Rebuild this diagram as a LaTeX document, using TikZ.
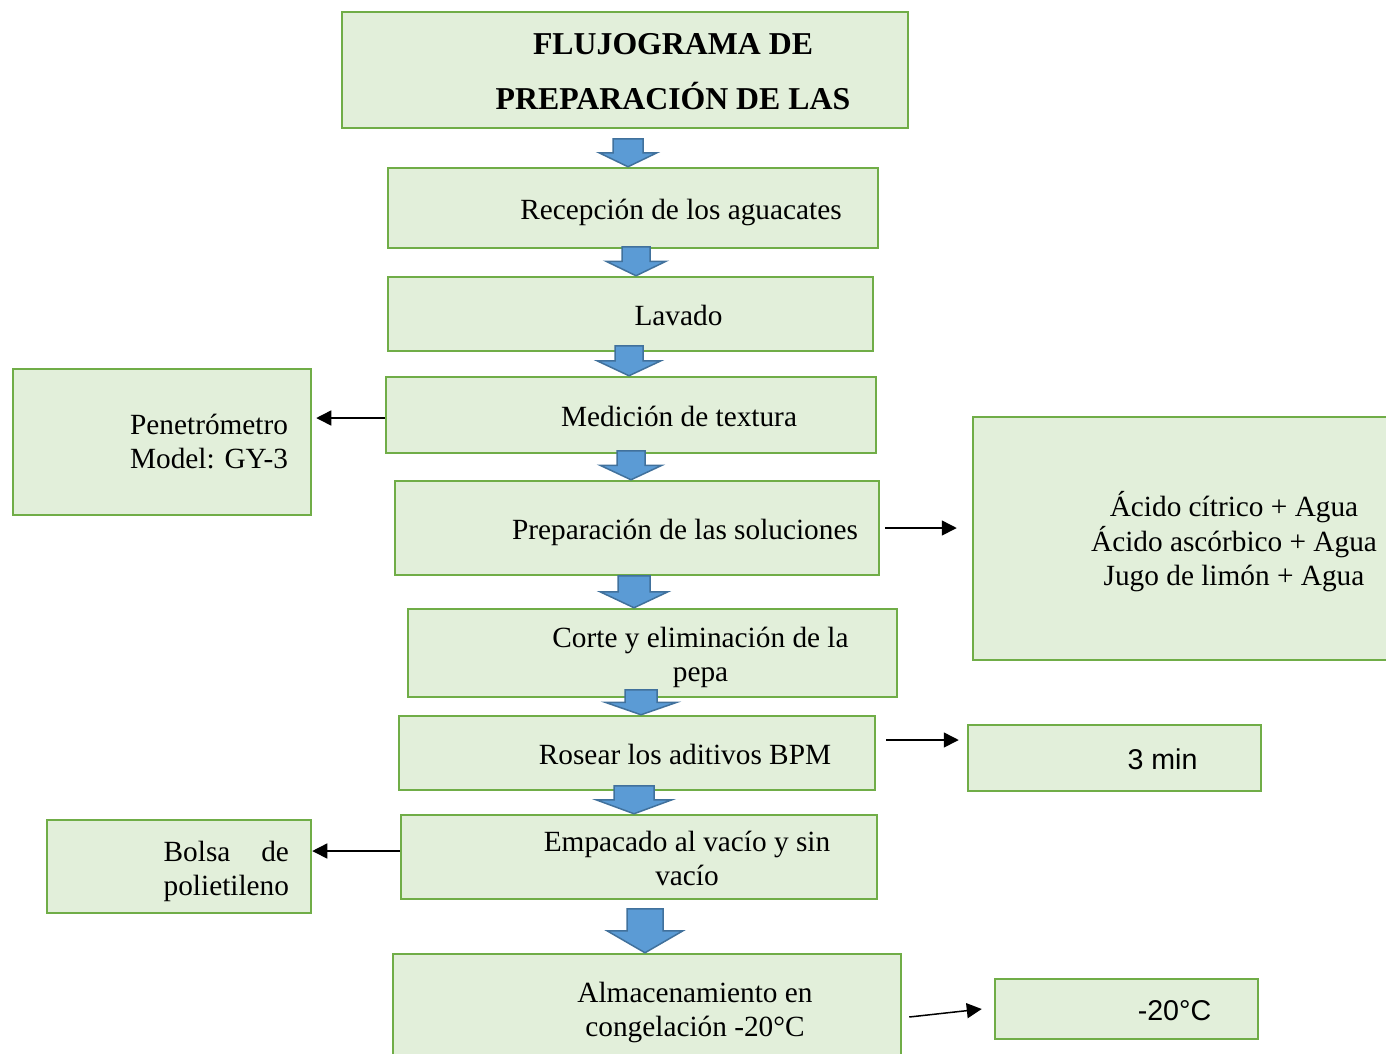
\documentclass[tikz,border=0pt]{standalone}
\usepackage{fontspec}
\setmainfont{Liberation Serif}
\setsansfont{Liberation Sans}
\usetikzlibrary{positioning}
\usetikzlibrary{calc}
\usetikzlibrary{arrows.meta}
\definecolor{verde}{HTML}{70AD47}
\definecolor{verdeclaro}{HTML}{E2EFDA}
\definecolor{azul}{HTML}{5B9BD5}
\definecolor{azuloscuro}{HTML}{41719C}

\newcommand{\sangria}[2][5pt]{\hspace*{96pt}\raisebox{-#1}[\height][\depth]{\begin{tabular}{@{}c@{}}#2\end{tabular}}}
\newcommand{\flecha}[5]{%
	\draw[bloque] let \p1=(#1.north) in
		({#2pt-#4pt},{\y1+#3pt}) -- ({#2pt+#4pt},{\y1+#3pt}) -- ({#2pt+#4pt},{\y1+#3pt/2})
		-- ({#2pt+#5pt},{\y1+#3pt/2}) -- (#2pt,\y1) -- ({#2pt-#5pt},{\y1+#3pt/2})
		-- ({#2pt-#4pt},{\y1+#3pt/2}) -- cycle;}

\tikzset{
	caja/.style={draw=verde, fill=verdeclaro, line width=2.5pt, inner sep=0pt,
		font=\frenchspacing\fontsize{29.3}{34}\selectfont},
	bloque/.style={fill=azul, draw=azuloscuro, line width=1.5pt},
	flechita/.style={-{Triangle[length=15pt,width=15pt]}, line width=1.5pt, black}
}

\begin{document}
\begin{tikzpicture}[x=1pt, y=-1pt]

	\useasboundingbox (0,0) rectangle (1386,1053);
	\clip (0,0) rectangle (1386,1053);

    \draw (625,70) 
		node[caja, minimum width=566pt, minimum height=116pt, font=\bfseries\fontsize{31.8}{55}\selectfont] 
			(Titulo) {\sangria[1pt]{FLUJOGRAMA DE\\PREPARACIÓN DE LAS}};

    \draw (633,208) 
		node[caja, minimum width=490pt, minimum height=80pt] 
			(Recepcion) {\sangria{Recepción de los aguacates}};

    \draw (630.5,314) 
		node[caja, minimum width=485pt, minimum height=74pt] 
			(Lavado) {\sangria{Lavado}};

    \draw (631,415) 
		node[caja, minimum width=490pt, minimum height=76pt] 
			(Medicion) {\sangria{Medición de textura}};

    \draw (637,528) 
		node[caja, minimum width=484pt, minimum height=94pt] 
			(Preparacion) {\sangria{Preparación de las soluciones}};

    \draw (652.5,653) 
		node[caja, minimum width=489pt, minimum height=88pt] 
			(Corte) {\sangria{Corte y eliminación de la\\pepa}};

    \draw (637,753) 
		node[caja, minimum width=476pt, minimum height=74pt] 
			(Rosear) {\sangria{Rosear los aditivos BPM}};

    \draw (639,857) 
		node[caja, minimum width=476pt, minimum height=84pt] 
			(Empacado) {\sangria{Empacado al vacío y sin\\vacío}};

    \draw (647,1008) 
		node[caja, minimum width=508pt, minimum height=108pt] 
			(Almacenamiento) {\sangria{Almacenamiento en\\congelación -20°C}};

    \draw (162,442) 
		node[caja, minimum width=298pt, minimum height=146pt, text width=252pt, align=right] 
			(Penetrometro) {Penetrómetro\\Model: GY-3};

    \draw (179,866.5) 
		node[caja, minimum width=264pt, minimum height=93pt, text width=220pt, align=right] 
			(Bolsa) {\raisebox{-5pt}[\height][\depth]{\begin{tabular}{@{}r@{}}Bolsa\hfill de\\polietileno\end{tabular}}};

    \draw (1186,538.5) 
		node[caja, minimum width=426pt, minimum height=243pt] 
			(Soluciones) {\sangria{Ácido cítrico + Agua\\Ácido ascórbico + Agua\\Jugo de limón + Agua}};

    \draw (1114.5,758) 
		node[caja, minimum width=293pt, minimum height=66pt, font=\sffamily\fontsize{28.6}{34}\selectfont] 
			(Tiempo) {\sangria{3 min}};

    \draw (1126.5,1009) 
		node[caja, minimum width=263pt, minimum height=60pt, font=\sffamily\fontsize{28.6}{34}\selectfont] 
			(Temperatura) {\sangria{-20°C}};

	\flecha{Recepcion}{628}{28}{15}{29}
	\flecha{Lavado}{636}{29}{14}{30}
	\flecha{Medicion}{629}{30}{14}{32}
	\flecha{Preparacion}{631}{29}{14}{31}
	\flecha{Corte}{634}{32}{16}{34}
	\flecha{Rosear}{641}{25}{16}{36}
	\flecha{Empacado}{634}{28}{20}{38}
	\flecha{Almacenamiento}{645}{44}{18}{38}

	\coordinate (r1) at ([yshift=13pt]Rosear.east);
	\coordinate (e1) at ([yshift=6pt]Empacado.west);
	\coordinate (m1) at ([yshift=-3pt]Medicion.west);

	\draw[flechita, shorten >=4pt] (m1) -- (m1 -| Penetrometro.east);
	\draw[flechita, shorten <=5pt, shorten >=15pt] (Preparacion.east) -- (Preparacion.east -| Soluciones.west);
	\draw[flechita, shorten <=10pt, shorten >=8pt] (r1) -- (r1 -| Tiempo.west);
	\draw[flechita] (e1) -- (e1 -| Bolsa.east);
	\draw[flechita] ([xshift=7pt,yshift=-9pt]Almacenamiento.east) -- ([xshift=-12pt]Temperatura.west);

	\end{tikzpicture}
\end{document}
